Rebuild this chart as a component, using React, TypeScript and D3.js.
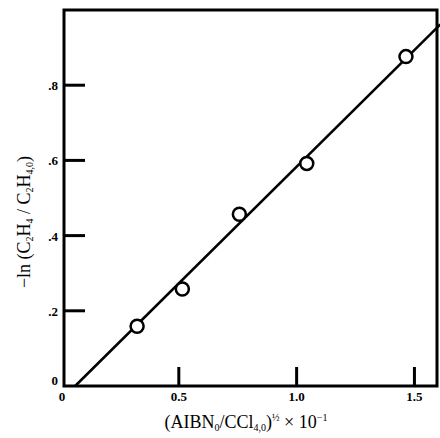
import React from "react";
import * as d3 from "d3";

const width = 440;
const height = 438;
const margin = { top: 10, right: 2, bottom: 52, left: 61 };

// measured points
const ratioX = [0.323, 0.515, 0.757, 1.043, 1.464];
const lnY = [0.159, 0.258, 0.457, 0.592, 0.876];

// fitted line ends
const fitX = [0.06, 1.61];
const fitY = [0.0, 0.962];

const xTicks = [0, 0.5, 1.0, 1.5];
const xTickLabels = ["0", "0.5", "1.0", "1.5"];
const yTicks = [0.2, 0.4, 0.6, 0.8];
const yTickLabels = [".2", ".4", ".6", ".8"];

const font = "'Liberation Serif', 'DejaVu Serif', serif";

export default function App() {
  const xScale = d3
    .scaleLinear()
    .domain([0, 1.6])
    .range([margin.left, width - margin.right]);
  const yScale = d3
    .scaleLinear()
    .domain([0, 1.0])
    .range([height - margin.bottom, margin.top]);

  const x0 = xScale(0) + 3;
  const y0 = yScale(0);

  const line = d3
    .line<number>()
    .x((d, i) => xScale(fitX[i]))
    .y((d) => yScale(d));

  return (
    <svg
      width={width}
      height={height}
      style={{ position: "absolute", left: 0, top: 0, background: "#fff" }}
      fontFamily={font}
    >
      {/* frame */}
      <rect
        x={x0}
        y={margin.top}
        width={width - margin.right - x0 - 1}
        height={y0 - margin.top}
        fill="none"
        stroke="#000"
        strokeWidth={3}
      />
      {/* y ticks */}
      {yTicks.map((t, i) => (
        <g key={"y" + i}>
          <line
            x1={x0}
            x2={x0 + 21}
            y1={yScale(t)}
            y2={yScale(t)}
            stroke="#000"
            strokeWidth={3}
          />
          <text
            x={x0 - 6}
            y={yScale(t) + 5}
            textAnchor="end"
            fontSize={13}
            fontWeight="bold"
          >
            {yTickLabels[i]}
          </text>
        </g>
      ))}
      <text x={x0 - 6} y={y0 - 1} textAnchor="end" fontSize={13} fontWeight="bold">
        0
      </text>
      {/* x ticks */}
      {xTicks.map((t, i) => (
        <g key={"x" + i}>
          {t > 0 && (
            <line
              x1={xScale(t)}
              x2={xScale(t)}
              y1={y0}
              y2={y0 - 19}
              stroke="#000"
              strokeWidth={3}
            />
          )}
          <text
            x={t === 0 ? x0 - 2 : xScale(t)}
            y={y0 + 15}
            textAnchor="middle"
            fontSize={13}
            fontWeight="bold"
          >
            {xTickLabels[i]}
          </text>
        </g>
      ))}
      {/* fit line */}
      <path
        d={line(fitY) || ""}
        fill="none"
        stroke="#000"
        strokeWidth={2.5}
      />
      {/* points */}
      {ratioX.map((v, i) => (
        <circle
          key={"p" + i}
          cx={xScale(v)}
          cy={yScale(lnY[i])}
          r={6.5}
          fill="#fff"
          stroke="#000"
          strokeWidth={2.5}
        />
      ))}
      {/* x title */}
      <text x={246} y={428} textAnchor="middle" fontSize={18}>
        (AIBN
        <tspan fontSize={10} dy={3}>0</tspan>
        <tspan dy={-3}>/CCl</tspan>
        <tspan fontSize={10} dy={3}>4,0</tspan>
        <tspan dy={-3}>)</tspan>
        <tspan fontSize={10} dy={-7}>½</tspan>
        <tspan dy={7}> × 10</tspan>
        <tspan fontSize={10} dy={-7}>−1</tspan>
      </text>
      {/* y title */}
      <text
        transform="translate(30, 222) rotate(-90)"
        textAnchor="middle"
        fontSize={18}
      >
        −ln (C
        <tspan fontSize={10} dy={3}>2</tspan>
        <tspan dy={-3}>H</tspan>
        <tspan fontSize={10} dy={3}>4</tspan>
        <tspan dy={-3}> / C</tspan>
        <tspan fontSize={10} dy={3}>2</tspan>
        <tspan dy={-3}>H</tspan>
        <tspan fontSize={10} dy={3}>4,0</tspan>
        <tspan dy={-3}>)</tspan>
      </text>
    </svg>
  );
}
